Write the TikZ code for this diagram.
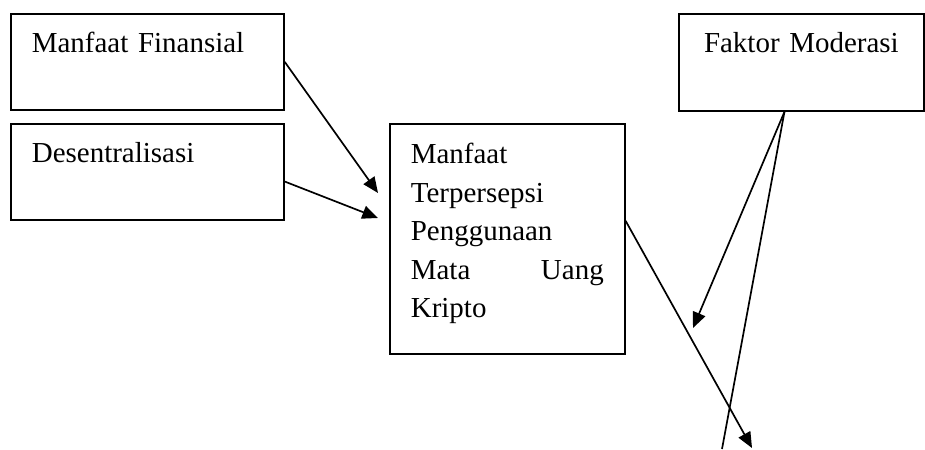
\documentclass[tikz,border=0pt]{standalone}
\usepackage{fontspec}
\setmainfont{Liberation Serif}
\usetikzlibrary{arrows.meta}

\begin{document}
\begin{tikzpicture}[>={Triangle[length=6.5pt, width=5.5pt]}, x=0.4142pt, y=-0.4142pt,
    kotak/.style={draw, line width=0.7pt, anchor=north west, inner ysep=0pt, inner xsep=8.7pt,
        align=left, font=\fontsize{12}{15.9}\selectfont},
    panah/.style={->, line width=0.7pt}]
    \useasboundingbox (0,0) rectangle (925,449);

    % variabel bebas
    \node[kotak, text width=95.7pt, text height=16.2pt, text depth=23.6pt] (finansial) at (10,13) {Manfaat Finansial};
    \node[kotak, text width=95.7pt, text height=16.2pt, text depth=23.6pt] (desentral) at (10,123) {Desentralisasi};

    % variabel terikat
    \node[kotak, text width=79.9pt, text height=16.6pt, text depth=78.7pt] (persepsi) at (389,123)
        {Manfaat\\Terpersepsi\\Penggunaan\\Mata\hfill Uang\\Kripto};

    % moderasi
    \node[kotak, align=center, text width=84.1pt, text height=16.2pt, text depth=24pt] (moderasi) at (678,13) {Faktor Moderasi};

    % ujung panah
    \coordinate (u1) at (378,193);
    \coordinate (u2) at (378,218);
    \coordinate (u3) at (752,448);
    \coordinate (u4) at (693,328);
    \coordinate (u5) at (722,449);

    % panah
    \draw[panah] (finansial.east) -- (u1);
    \draw[panah] ([yshift=-4pt]desentral.east) -- (u2);
    \draw[panah] ([yshift=7.5pt]persepsi.east) -- (u3);
    \draw[panah] ([xshift=-7pt]moderasi.south) -- (u4);
    \draw[line width=0.7pt] ([xshift=-7pt]moderasi.south) -- (u5);

\end{tikzpicture}
\end{document}
